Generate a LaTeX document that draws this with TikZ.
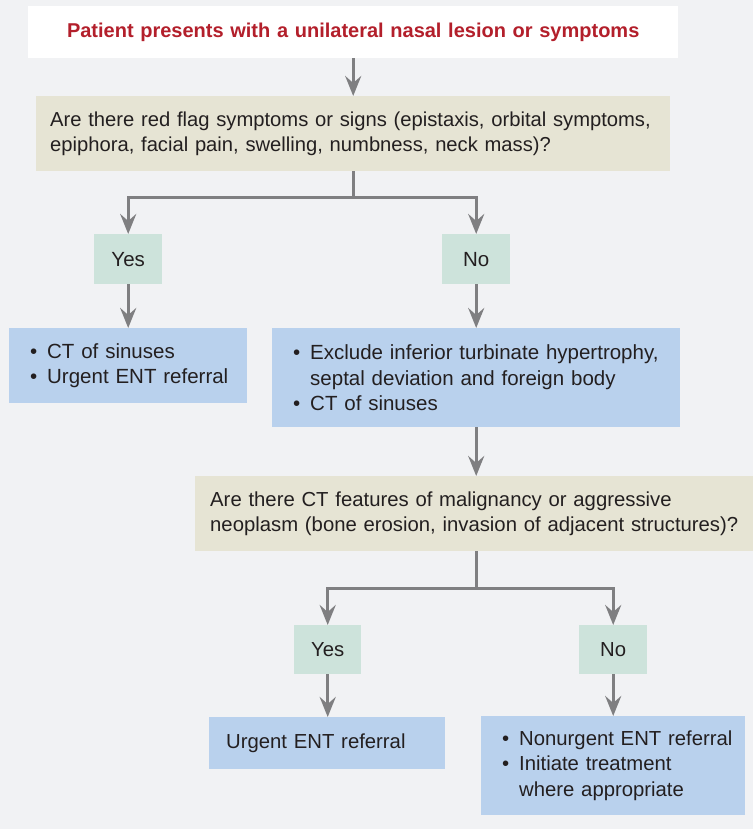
\documentclass[tikz,border=0pt]{standalone}
\usepackage{fontspec}
\setmainfont{Liberation Sans}
\usetikzlibrary{arrows.meta}
\definecolor{bg}{HTML}{F1F2F4}
\definecolor{beige}{HTML}{E6E4D4}
\definecolor{mint}{HTML}{CDE3DB}
\definecolor{lblue}{HTML}{B9D1ED}
\definecolor{agray}{HTML}{7F7F81}
\definecolor{tred}{HTML}{B31F2B}
\definecolor{ink}{HTML}{231F20}
\newcommand{\bitem}[1]{\hangindent=17pt\hangafter=1\noindent\hbox to 17pt{\textbullet\hfil}#1\par}
\tikzset{
  box/.style={rectangle, inner ysep=0pt, anchor=north west, align=left, text=ink},
  topf/.style={font=\fontsize{20.5}{25.5}\selectfont},
  botf/.style={font=\fontsize{20.3}{25.5}\selectfont},
  arr/.style={draw=agray, line width=3pt, -{Stealth[length=20pt, width=16pt, inset=7pt]}},
}
\begin{document}
\begin{tikzpicture}[x=1pt,y=-1pt]
\fill[bg] (0,0) rectangle (753,829);
\useasboundingbox (0,0) rectangle (753,829);

\node[box, fill=white, minimum width=650pt, minimum height=52pt, text width=650pt, inner xsep=0pt, align=center, text=tred, font=\fontsize{20}{24}\selectfont\bfseries] (title) at (28,6) {Patient presents with a unilateral nasal lesion or symptoms};

\node[box, fill=beige, minimum height=75pt, text width=606pt, inner xsep=14pt, font=\fontsize{20.2}{25}\selectfont] (q1) at (36,96)
  {\mbox{Are there red flag symptoms or signs (epistaxis, orbital symptoms,}\\ epiphora, facial pain, swelling, numbness, neck mass)?};

\node[box, topf, fill=mint, minimum height=50pt, text width=68pt, inner xsep=0pt, align=center] (yes1) at (94,234) {Yes};
\node[box, topf, fill=mint, minimum height=50pt, text width=68pt, inner xsep=0pt, align=center] (no1) at (442,234) {No};

\node[box, topf, fill=lblue, minimum height=75pt, text width=196pt, inner xsep=21pt] (b1) at (9,328)
  {\bitem{\mbox{CT of sinuses}}\bitem{\mbox{Urgent ENT referral}}};
\node[box, topf, fill=lblue, minimum height=99pt, text width=366pt, inner xsep=21pt] (b2) at (272,328)
  {\bitem{\mbox{Exclude inferior turbinate hypertrophy,}\newline \mbox{septal deviation and foreign body}}\bitem{\mbox{CT of sinuses}}};

\node[box, botf, fill=beige, minimum height=75pt, text width=528pt, inner xsep=15pt] (q2) at (195,476)
  {Are there CT features of malignancy or aggressive\\ \mbox{neoplasm (bone erosion, invasion of adjacent structures)?}};

\node[box, botf, fill=mint, minimum height=49pt, text width=67pt, inner xsep=0pt, align=center] (yes2) at (294,625) {Yes};
\node[box, botf, fill=mint, minimum height=49pt, text width=68pt, inner xsep=0pt, align=center] (no2) at (579,625) {No};

\node[box, botf, fill=lblue, minimum height=52pt, text width=202pt, inner xsep=17pt] (c1) at (209,717)
  {Urgent ENT referral};
\node[box, botf, fill=lblue, minimum height=99pt, text width=222pt, inner xsep=21pt] (c2) at (481,716)
  {\bitem{\mbox{Nonurgent ENT referral}}\bitem{\mbox{Initiate treatment}\newline \mbox{where appropriate}}};

\draw[arr] (title.south) -- (q1.north);
\draw[arr] (q1.south) -- ++(0,26) -| (yes1.north);
\draw[arr] (q1.south) -- ++(0,26) -| (no1.north);
\draw[arr] (yes1.south) -- (yes1.south |- b1.north);
\draw[arr] (no1.south) -- (no1.south |- b2.north);
\draw[arr] (no1.south |- b2.south) -- (no1.south |- q2.north);
\draw[arr] (no1.south |- q2.south) -- ++(0,37) -| (yes2.north);
\draw[arr] (no1.south |- q2.south) -- ++(0,37) -| (no2.north);
\draw[arr] (yes2.south) -- (yes2.south |- c1.north);
\draw[arr] (no2.south) -- (no2.south |- c2.north);
\end{tikzpicture}
\end{document}
